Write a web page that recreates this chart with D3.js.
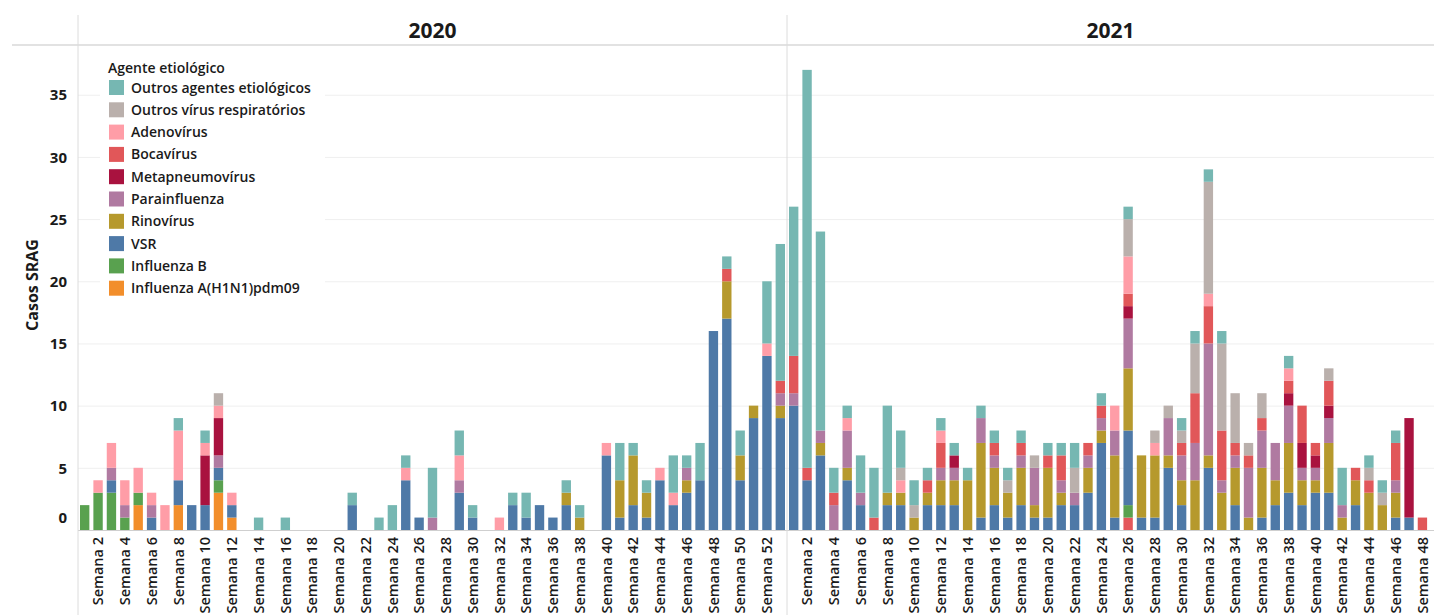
<!DOCTYPE html>
<html>
<head>
<meta charset="utf-8">
<script src="https://cdn.jsdelivr.net/npm/d3@7"></script>
<style>
  body { margin: 0; background: #fff; }
  text { font-family: "Open Sans", "Noto Sans", sans-serif; }
</style>
</head>
<body>
<script>
// SRAG cases by etiological agent, per epidemiological week
var years = ["2020", "2021"];
var weeks2020 = d3.range(1, 54);
var weeks2021 = d3.range(1, 49);
var yTicks = [0, 5, 10, 15, 20, 25, 30, 35];

// series, bottom of stack first
var naoEsp2020 = [0,0,0,0,0,0,0,0,0,0, 0,0,0,0,0,0,0,0,0,0, 0,0,0,0,0,0,0,0,0,0, 0,0,0,0,0,0,0,0,0,0, 0,0,0,0,0,0,0,0,0,0, 0,0,0];
var h1n12020   = [0,0,0,0,2,0,0,2,0,0, 3,1,0,0,0,0,0,0,0,0, 0,0,0,0,0,0,0,0,0,0, 0,0,0,0,0,0,0,0,0,0, 0,0,0,0,0,0,0,0,0,0, 0,0,0];
var infB2020   = [2,3,3,1,1,0,0,0,0,0, 1,0,0,0,0,0,0,0,0,0, 0,0,0,0,0,0,0,0,0,0, 0,0,0,0,0,0,0,0,0,0, 0,0,0,0,0,0,0,0,0,0, 0,0,0];
var vsr2020    = [0,0,1,0,0,1,0,2,2,2, 1,1,0,0,0,0,0,0,0,0, 2,0,0,0,4,1,0,0,3,1, 0,0,2,1,2,1,2,0,0,6, 1,2,1,4,2,3,4,16,17,4, 9,14,9];
var rino2020   = [0,0,0,0,0,0,0,0,0,0, 0,0,0,0,0,0,0,0,0,0, 0,0,0,0,0,0,0,0,0,0, 0,0,0,0,0,0,1,1,0,0, 3,4,2,0,0,1,0,0,3,2, 1,0,1];
var para2020   = [0,0,1,1,0,1,0,0,0,0, 1,0,0,0,0,0,0,0,0,0, 0,0,0,0,0,0,1,0,1,0, 0,0,0,0,0,0,0,0,0,0, 0,0,0,0,0,1,0,0,0,0, 0,0,1];
var meta2020   = [0,0,0,0,0,0,0,0,0,4, 3,0,0,0,0,0,0,0,0,0, 0,0,0,0,0,0,0,0,0,0, 0,0,0,0,0,0,0,0,0,0, 0,0,0,0,0,0,0,0,0,0, 0,0,0];
var boca2020   = [0,0,0,0,0,0,0,0,0,0, 0,0,0,0,0,0,0,0,0,0, 0,0,0,0,0,0,0,0,0,0, 0,0,0,0,0,0,0,0,0,0, 0,0,0,0,0,0,0,0,1,0, 0,0,1];
var adeno2020  = [0,1,2,2,2,1,2,4,0,1, 1,1,0,0,0,0,0,0,0,0, 0,0,0,0,1,0,0,0,2,0, 0,1,0,0,0,0,0,0,0,1, 0,0,0,1,1,0,0,0,0,0, 0,1,0];
var outVir2020 = [0,0,0,0,0,0,0,0,0,0, 1,0,0,0,0,0,0,0,0,0, 0,0,0,0,0,0,0,0,0,0, 0,0,0,0,0,0,0,0,0,0, 0,0,0,0,0,0,0,0,0,0, 0,0,0];
var outAg2020  = [0,0,0,0,0,0,0,1,0,1, 0,0,0,1,0,1,0,0,0,0, 1,0,1,2,1,0,4,0,2,1, 0,0,1,2,0,0,1,1,0,0, 3,1,1,0,3,1,3,0,1,2, 0,5,11];

var naoEsp2021 = [0,0,0,0,0,0,0,0,0,0, 0,0,0,0,0,0,0,0,0,0, 0,0,0,0,0,1,0,0,0,0, 0,0,0,0,0,0,0,0,0,0, 0,0,0,0,0,0,0,0];
var h1n12021   = [0,0,0,0,0,0,0,0,0,0, 0,0,0,0,0,0,0,0,0,0, 0,0,0,0,0,0,0,0,0,0, 0,0,0,0,0,0,0,0,0,0, 0,0,0,0,0,0,0,0];
var infB2021   = [0,0,0,0,0,0,0,0,0,0, 0,0,0,0,0,0,0,0,0,0, 0,0,0,0,0,1,0,0,0,0, 0,0,0,0,0,0,0,0,0,0, 0,0,0,0,0,0,0,0];
var vsr2021    = [10,4,6,0,4,2,0,2,2,0, 2,2,2,0,1,2,1,2,1,1, 2,2,3,7,1,6,1,1,5,2, 0,5,0,2,0,1,2,3,2,3, 3,0,2,0,0,1,1,0];
var rino2021   = [0,0,1,0,1,0,0,1,1,1, 1,2,2,4,6,3,2,3,1,4, 1,0,2,1,5,5,5,5,1,2, 4,1,3,3,1,4,2,4,2,1, 4,1,2,3,2,2,0,0];
var para2021   = [1,0,1,2,3,1,0,0,0,0, 0,1,1,0,2,1,0,1,3,0, 1,1,1,1,2,4,0,0,3,2, 3,9,1,1,4,3,3,3,1,1, 2,1,0,0,0,1,0,0];
var meta2021   = [0,0,0,0,0,0,0,0,0,0, 0,0,1,0,0,0,0,0,0,0, 0,0,0,0,0,1,0,0,0,0, 0,0,0,0,0,0,0,1,2,1, 1,0,0,0,0,0,8,0];
var boca2021   = [3,1,0,1,0,0,1,0,0,0, 1,2,0,0,0,1,0,1,0,1, 2,0,1,1,0,1,0,0,0,1, 4,3,4,1,1,1,0,1,3,1, 2,0,1,1,0,3,0,1];
var adeno2021  = [0,0,0,0,1,0,0,0,1,0, 0,1,0,0,0,0,0,0,0,0, 0,0,0,0,2,3,0,1,0,0, 0,1,0,0,0,0,0,1,0,0, 0,0,0,0,0,0,0,0];
var outVir2021 = [0,0,0,0,0,0,0,0,1,1, 0,0,0,0,0,0,1,0,1,0, 0,2,0,0,0,3,0,1,1,1, 4,9,7,4,1,2,0,0,0,0, 1,0,0,1,1,0,0,0];
var outAg2021  = [12,32,16,2,1,3,4,7,3,2, 1,1,1,1,1,1,1,1,0,1, 1,2,0,1,0,1,0,0,0,1, 1,1,1,0,0,0,0,1,0,0, 0,3,0,1,1,1,0,0];

var keys = ["naoEsp", "h1n1", "infB", "vsr", "rino", "para", "meta", "boca", "adeno", "outVir", "outAg"];
var colors = {
  naoEsp: "#e4575b", h1n1: "#f28e2b", infB: "#59a14f", vsr: "#4e79a7", rino: "#b6992d",
  para: "#b07aa1", meta: "#a9123f", boca: "#e15759", adeno: "#ff9da7", outVir: "#bab0ac", outAg: "#76b7b2"
};
// legend order (top to bottom), same as the original
var legendKeys = ["outAg", "outVir", "adeno", "boca", "meta", "para", "rino", "vsr", "infB", "h1n1"];
var legendLabels = ["Outros agentes etiológicos", "Outros vírus respiratórios", "Adenovírus", "Bocavírus",
  "Metapneumovírus", "Parainfluenza", "Rinovírus", "VSR", "Influenza B", "Influenza A(H1N1)pdm09"];

var series2020 = {naoEsp: naoEsp2020, h1n1: h1n12020, infB: infB2020, vsr: vsr2020, rino: rino2020, para: para2020,
  meta: meta2020, boca: boca2020, adeno: adeno2020, outVir: outVir2020, outAg: outAg2020};
var series2021 = {naoEsp: naoEsp2021, h1n1: h1n12021, infB: infB2021, vsr: vsr2021, rino: rino2021, para: para2021,
  meta: meta2021, boca: boca2021, adeno: adeno2021, outVir: outVir2021, outAg: outAg2021};

function toRows(weeks, s) {
  return weeks.map(function(w, i) {
    var row = {week: w};
    keys.forEach(function(k) { row[k] = s[k][i]; });
    return row;
  });
}

var svgWidth = 1434;
var svgHeight = 615;
var left = 78;
var split = 787;
var step = (split - left) / 53;
var baseY = 530;
var topY = 45;

var svg = d3.select("body").append("svg")
  .attr("width", svgWidth)
  .attr("height", svgHeight);

var y = d3.scaleLinear().domain([0, 39]).range([baseY, topY]);

var panels = [
  {year: years[0], weeks: weeks2020, rows: toRows(weeks2020, series2020), x0: left},
  {year: years[1], weeks: weeks2021, rows: toRows(weeks2021, series2021), x0: split}
];

// gridlines
svg.append("g")
  .attr("transform", "translate(" + left + ",0)")
  .call(d3.axisLeft(y).tickValues(yTicks.slice(1)).tickSize(-(svgWidth - left)).tickFormat(""))
  .call(function(g) { g.select(".domain").remove(); })
  .selectAll("line").attr("stroke", "#efefef");

// header and panel dividers
svg.append("line").attr("x1", 12).attr("x2", svgWidth).attr("y1", topY).attr("y2", topY)
  .attr("stroke", "#e2e2e2").attr("stroke-width", 2);
svg.append("line").attr("x1", left).attr("x2", svgWidth).attr("y1", baseY + 0.5).attr("y2", baseY + 0.5)
  .attr("stroke", "#cfcfcf");
[left, split].forEach(function(xv) {
  svg.append("line").attr("x1", xv).attr("x2", xv).attr("y1", 15).attr("y2", svgHeight)
    .attr("stroke", "#dcdcdc");
});

var stack = d3.stack().keys(keys);

panels.forEach(function(p) {
  var x = d3.scaleBand()
    .domain(p.weeks)
    .range([p.x0, p.x0 + p.weeks.length * step])
    .paddingInner(0.3)
    .paddingOuter(0.15);

  var layers = stack(p.rows);
  svg.append("g").selectAll("g")
    .data(layers).enter()
    .append("g")
    .attr("fill", function(d) { return colors[d.key]; })
    .selectAll("rect")
    .data(function(d) { return d; }).enter()
    .append("rect")
    .filter(function(d) { return d[1] > d[0]; })
    .attr("x", function(d) { return x(d.data.week); })
    .attr("width", x.bandwidth())
    .attr("y", function(d) { return y(d[1]); })
    .attr("height", function(d) { return y(d[0]) - y(d[1]); });

  var xAxis = svg.append("g")
    .attr("transform", "translate(0," + baseY + ")")
    .call(d3.axisBottom(x)
      .tickValues(p.weeks.filter(function(w) { return w % 2 === 0; }))
      .tickSize(0)
      .tickFormat(function(w) { return "Semana " + w; }));
  xAxis.select(".domain").remove();
  xAxis.selectAll("text")
    .attr("transform", "rotate(-90)")
    .attr("text-anchor", "end")
    .attr("x", -7)
    .attr("y", 0)
    .attr("dy", "0.36em")
    .attr("font-size", "14.5px")
    .attr("font-weight", 600)
    .attr("fill", "#1a1a1a");

  svg.append("text")
    .attr("x", (p.x0 + (p.x0 === left ? split : svgWidth)) / 2)
    .attr("y", 38)
    .attr("text-anchor", "middle")
    .attr("font-size", "21px")
    .attr("font-weight", 700)
    .attr("fill", "#1a1a1a")
    .text(p.year);
});

// y axis labels
var yAxis = svg.append("g")
  .attr("transform", "translate(" + (left - 8) + ",0)")
  .call(d3.axisLeft(y).tickValues(yTicks).tickSize(0));
yAxis.select(".domain").remove();
yAxis.selectAll("text")
  .attr("font-family", "'DejaVu Sans', sans-serif")
  .attr("font-size", "15px")
  .attr("font-weight", 700)
  .attr("fill", "#1a1a1a")
  .attr("dy", function(d) { return d === 0 ? "-0.5em" : "0.35em"; });

svg.append("text")
  .attr("transform", "translate(38," + 285 + ") rotate(-90)")
  .attr("text-anchor", "middle")
  .attr("font-size", "16px")
  .attr("font-weight", 700)
  .attr("fill", "#1a1a1a")
  .text("Casos SRAG");

// legend
var legend = svg.append("g").attr("transform", "translate(100,55)");
legend.append("rect").attr("width", 225).attr("height", 245).attr("fill", "#fff");
legend.append("text")
  .attr("x", 8).attr("y", 18)
  .attr("font-size", "14px").attr("font-weight", 600).attr("fill", "#1a1a1a")
  .text("Agente etiológico");
var items = legend.selectAll(".item")
  .data(legendKeys).enter()
  .append("g")
  .attr("transform", function(d, i) { return "translate(9," + (25 + i * 22.3) + ")"; });
items.append("rect").attr("width", 15).attr("height", 15)
  .attr("fill", function(d) { return colors[d]; });
items.append("text")
  .attr("x", 22).attr("y", 12.5)
  .attr("font-size", "14px").attr("font-weight", 600).attr("fill", "#1a1a1a")
  .text(function(d, i) { return legendLabels[i]; });
</script>
</body>
</html>
